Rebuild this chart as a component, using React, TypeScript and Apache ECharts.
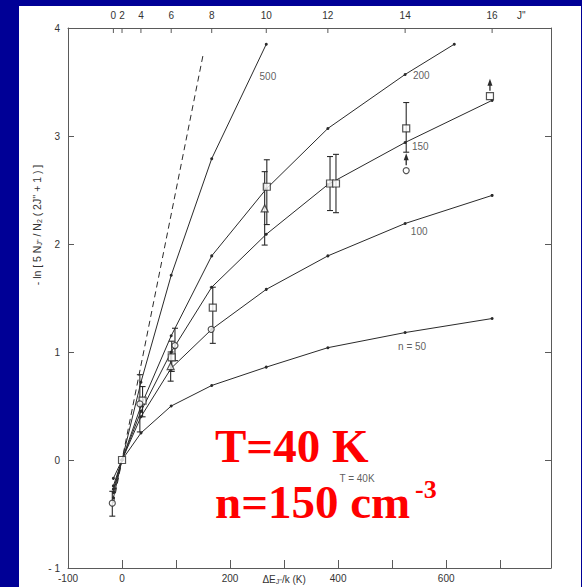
import React, { useEffect, useRef } from 'react';
import * as echarts from 'echarts';

// Top axis: rotational levels J'' and their energy above J''=2 (K)
const jLevels = [0, 2, 4, 6, 8, 10, 12, 14, 16];
const jDeltaE = [-16, 0, 35, 91, 166, 267, 381, 524, 685];
const jAxisName = [739, "J''"];

// Model curves (values at each J'' position)
const n50 = [-0.17, 0, 0.25, 0.5, 0.69, 0.86, 1.04, 1.18, 1.31];
const n100 = [-0.24, 0, 0.4, 0.85, 1.21, 1.58, 1.89, 2.19, 2.45];
const n150 = [-0.27, 0, 0.45, 1.0, 1.6, 2.09, 2.55, 2.94, 3.33];
const n200 = [-0.3, 0, 0.5, 1.15, 1.89, 2.51, 3.07, 3.57];
const n200End = [615, 3.85];
const n500 = [-0.35, 0, 0.72, 1.71, 2.79, 3.85];
const lteLine = [[-16, -0.4], [150, 3.75]];

// Observations
const obsSquares = [[0, 0], [38, 0.55], [92, 0.95], [168, 1.41], [268, 2.53], [385, 2.56], [396, 2.56], [526, 3.07], [681, 3.37]];
const obsCircles = [[-18, -0.4], [33, 0.52], [98, 1.06], [165, 1.21], [526, 2.68]];
const obsTriangles = [[90, 0.87], [264, 2.33]];
const errorBars = [
  [-18, -0.52, -0.29], [33, 0.26, 0.79], [38, 0.4, 0.68], [92, 0.82, 1.1], [98, 0.92, 1.22],
  [90, 0.73, 1.0], [168, 1.08, 1.6], [268, 2.18, 2.78], [264, 1.99, 2.67],
  [385, 2.31, 2.81], [396, 2.29, 2.83], [526, 2.85, 3.31],
];
const lowerLimitArrows = [[526, 2.73, 2.84], [681, 3.42, 3.53]];

// Text labels
const xLabelValues = [-100, 0, 200, 400, 600];
const curveLabels = [
  [270, 3.55, '500'], [554, 3.56, '200'], [552, 2.9, '150'], [550, 2.12, '100'],
  [537, 1.05, 'n = 50'], [435, -0.17, 'T = 40K'],
];

const FONT = '"Liberation Sans", Arial, sans-serif';
const SERIF = '"Liberation Serif", "Times New Roman", serif';
const INK = '#2a2a2a';
const AXIS = '#5a5a5a';
const LABEL = '#333333';

export default function App() {
  const ref = useRef<HTMLDivElement>(null);
  useEffect(() => {
    if (!ref.current) return;
    const chart = echarts.init(ref.current, undefined, { renderer: 'svg' });
    const lineStyle = { color: INK, width: 1 };
    const curve = (vals: number[], extra: number[][] = []) => ({
      type: 'line',
      data: vals.map((v, i) => [jDeltaE[i], v]).concat(extra),
      symbol: 'circle',
      symbolSize: 3,
      showSymbol: true,
      itemStyle: { color: INK },
      lineStyle,
      clip: false,
      z: 3,
    });
    const markers = (data: number[][], symbol: string, size: number) => ({
      type: 'scatter',
      data,
      symbol,
      symbolSize: size,
      itemStyle: { color: '#fff', borderColor: INK, borderWidth: 1.2 },
      clip: false,
      z: 6,
    });
    const option: any = {
      animation: false,
      textStyle: { fontFamily: FONT },
      grid: { left: 49, top: 22, right: 30, bottom: 19 },
      xAxis: [
        {
          type: 'value', min: -100, max: 794, interval: 100, position: 'bottom',
          axisLine: { show: true, onZero: false, lineStyle: { color: AXIS } },
          axisTick: { show: true, inside: true, length: 8, lineStyle: { color: AXIS } },
          splitLine: { show: false },
          axisLabel: {
            color: LABEL, fontSize: 10, fontFamily: FONT, margin: 5,
            formatter: (v: number) => {
              if (v === 300) return '{a|ΔE}{s|J\'\'}{a|/k (K)}';
              return xLabelValues.indexOf(v) >= 0 ? (v < 0 ? '-' + Math.abs(v) : String(v)) : '';
            },
            rich: {
              a: { fontSize: 10, color: LABEL, fontFamily: FONT },
              s: { fontSize: 7, color: LABEL, fontFamily: FONT, padding: [5, 0, 0, 0] },
            },
          },
        },
        {
          type: 'value', min: -100, max: 794, position: 'top',
          axisLine: { show: true, onZero: false, lineStyle: { color: AXIS } },
          axisTick: { show: false }, axisLabel: { show: false }, splitLine: { show: false },
        },
      ],
      yAxis: [
        {
          type: 'value', min: -1, max: 4, interval: 1, position: 'left',
          axisLine: { show: true, onZero: false, lineStyle: { color: AXIS } },
          axisTick: { show: true, inside: true, length: 6, lineStyle: { color: AXIS } },
          splitLine: { show: false },
          axisLabel: {
            color: LABEL, fontSize: 10, fontFamily: FONT, margin: 8,
            formatter: (v: number) => (v < 0 ? '- ' + Math.abs(v) : String(v)),
          },
        },
        {
          type: 'value', min: -1, max: 4, interval: 1, position: 'right',
          axisLine: { show: true, onZero: false, lineStyle: { color: AXIS } },
          axisTick: { show: true, inside: true, length: 6, lineStyle: { color: AXIS } },
          splitLine: { show: false }, axisLabel: { show: false },
        },
      ],
      graphic: [
        {
          type: 'text', x: 18, y: 219, rotation: Math.PI / 2,
          style: {
            text: '- ln [ 5 N{s|J\'\'} / N{s|2} ( 2J\'\' + 1 ) ]',
            fill: LABEL, fontSize: 10.5, fontFamily: FONT, align: 'center', verticalAlign: 'middle',
            rich: { s: { fontSize: 7, fill: LABEL, fontFamily: FONT, padding: [5, 0, 0, 0] } },
          },
        },
        {
          type: 'text', x: 196, y: 440, z: 100,
          style: { text: 'T=40 K', fill: '#ff0000', fontSize: 47, lineHeight: 30, fontWeight: 'bold', fontFamily: SERIF, align: 'left', verticalAlign: 'middle' },
        },
        {
          type: 'text', x: 196, y: 496, z: 100,
          style: { text: 'n=150 cm', fill: '#ff0000', fontSize: 47, lineHeight: 30, fontWeight: 'bold', fontFamily: SERIF, align: 'left', verticalAlign: 'middle' },
        },
        {
          type: 'text', x: 396, y: 483, z: 100,
          style: { text: '-3', fill: '#ff0000', fontSize: 26, lineHeight: 16, fontWeight: 'bold', fontFamily: SERIF, align: 'left', verticalAlign: 'middle' },
        },
      ],
      series: [
        curve(n50),
        curve(n100),
        curve(n150),
        curve(n200, [n200End]),
        curve(n500),
        {
          type: 'line', data: lteLine, symbol: 'none', clip: false,
          lineStyle: { color: INK, width: 1, type: [6, 4] }, z: 3,
        },
        {
          type: 'custom', clip: false, z: 5,
          data: errorBars,
          encode: { x: 0, y: [1, 2] },
          renderItem: (params: any, api: any) => {
            const x = api.value(0);
            const p1 = api.coord([x, api.value(1)]);
            const p2 = api.coord([x, api.value(2)]);
            const st = { stroke: INK, lineWidth: 1.1 };
            return {
              type: 'group',
              children: [
                { type: 'line', shape: { x1: p1[0], y1: p1[1], x2: p2[0], y2: p2[1] }, style: st },
                { type: 'line', shape: { x1: p1[0] - 3, y1: p1[1], x2: p1[0] + 3, y2: p1[1] }, style: st },
                { type: 'line', shape: { x1: p2[0] - 3, y1: p2[1], x2: p2[0] + 3, y2: p2[1] }, style: st },
              ],
            };
          },
        },
        {
          type: 'custom', clip: false, z: 5,
          data: lowerLimitArrows,
          encode: { x: 0, y: [1, 2] },
          renderItem: (params: any, api: any) => {
            const x = api.value(0);
            const p1 = api.coord([x, api.value(1)]);
            const p2 = api.coord([x, api.value(2)]);
            return {
              type: 'group',
              children: [
                { type: 'line', shape: { x1: p1[0], y1: p1[1], x2: p2[0], y2: p2[1] + 4 }, style: { stroke: INK, lineWidth: 1.3 } },
                { type: 'polygon', shape: { points: [[p2[0], p2[1]], [p2[0] - 2.5, p2[1] + 7], [p2[0] + 2.5, p2[1] + 7]] }, style: { fill: INK } },
              ],
            };
          },
        },
        markers(obsSquares, 'rect', 7),
        markers(obsCircles, 'circle', 6),
        markers(obsTriangles, 'triangle', 7),
        {
          type: 'custom', clip: false, z: 5,
          data: jDeltaE.map((d, i) => [d, jLevels[i]]),
          encode: { x: 0 },
          renderItem: (params: any, api: any) => {
            const p = api.coord([api.value(0), 4]);
            return {
              type: 'group',
              children: [
                { type: 'line', shape: { x1: p[0], y1: p[1], x2: p[0], y2: p[1] + 5 }, style: { stroke: AXIS, lineWidth: 1 } },
                { type: 'text', x: p[0], y: p[1] - 13, style: { text: String(api.value(1)), fill: LABEL, fontSize: 10, fontFamily: FONT, align: 'center', verticalAlign: 'middle' } },
              ],
            };
          },
        },
        {
          type: 'custom', clip: false, z: 5,
          data: [[jAxisName[0], 4]],
          encode: { x: 0, y: 1 },
          renderItem: (params: any, api: any) => {
            const p = api.coord([api.value(0), api.value(1)]);
            return { type: 'text', x: p[0], y: p[1] - 13, style: { text: jAxisName[1] as string, fill: LABEL, fontSize: 10, fontFamily: FONT, align: 'center', verticalAlign: 'middle' } };
          },
        },
        {
          type: 'scatter', clip: false, z: 4,
          data: curveLabels.map((c) => ({ value: [c[0], c[1]], name: c[2] })),
          symbolSize: 1, itemStyle: { color: 'rgba(0,0,0,0)' },
          label: { show: true, position: 'inside', formatter: (p: any) => p.name, color: LABEL, fontSize: 10, fontFamily: FONT },
        },
      ],
    };
    chart.setOption(option);
    return () => chart.dispose();
  }, []);
  return (
    <div style={{ position: 'fixed', left: 0, top: 0, width: 582, height: 587, background: '#000096' }}>
      <div ref={ref} style={{ position: 'absolute', left: 19, top: 6, width: 562, height: 581, background: '#ffffff' }} />
    </div>
  );
}
